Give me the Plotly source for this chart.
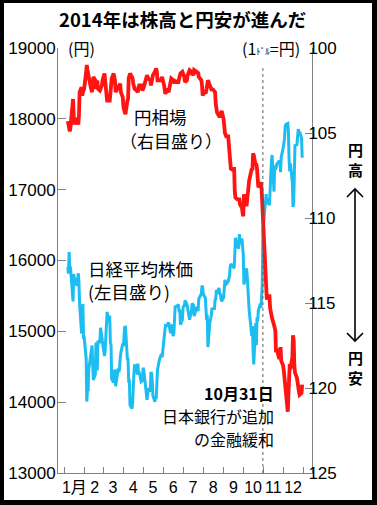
import plotly.graph_objects as go

# ---------------- data ----------------
day_labels = [
 "01-06","01-07","01-08","01-09","01-10","01-14","01-15","01-16","01-17","01-20","01-21","01-22","01-23","01-24","01-27","01-28","01-29","01-30","01-31",
 "02-03","02-04","02-05","02-06","02-07","02-10","02-12","02-13","02-14","02-17","02-18","02-19","02-20","02-21","02-24","02-25","02-26","02-27","02-28",
 "03-03","03-04","03-05","03-06","03-07","03-10","03-11","03-12","03-13","03-14","03-17","03-18","03-19","03-20","03-24","03-25","03-26","03-27","03-28","03-31",
 "04-01","04-02","04-03","04-04","04-07","04-08","04-09","04-10","04-11","04-14","04-15","04-16","04-17","04-18","04-21","04-22","04-23","04-24","04-25","04-28","04-30",
 "05-01","05-02","05-07","05-08","05-09","05-12","05-13","05-14","05-15","05-16","05-19","05-20","05-21","05-22","05-23","05-26","05-27","05-28","05-29","05-30",
 "06-02","06-03","06-04","06-05","06-06","06-09","06-10","06-11","06-12","06-13","06-16","06-17","06-18","06-19","06-20","06-23","06-24","06-25","06-26","06-27","06-30",
 "07-01","07-02","07-03","07-04","07-07","07-08","07-09","07-10","07-11","07-14","07-15","07-16","07-17","07-18","07-22","07-23","07-24","07-25","07-28","07-29","07-30","07-31",
 "08-01","08-04","08-05","08-06","08-07","08-08","08-11","08-12","08-13","08-14","08-15","08-18","08-19","08-20","08-21","08-22","08-25","08-26","08-27","08-28","08-29",
 "09-01","09-02","09-03","09-04","09-05","09-08","09-09","09-10","09-11","09-12","09-16","09-17","09-18","09-19","09-22","09-24","09-25","09-26","09-29","09-30",
 "10-01","10-02","10-03","10-06","10-07","10-08","10-09","10-10","10-14","10-15","10-16","10-17","10-20","10-21","10-22","10-23","10-24","10-27","10-28","10-29","10-30","10-31",
 "11-04","11-05","11-06","11-07","11-10","11-11","11-12","11-13","11-14","11-17","11-18","11-19","11-20","11-21","11-25","11-26","11-27","11-28",
 "12-01","12-02","12-03","12-04","12-05","12-08","12-09","12-10","12-11","12-12","12-15","12-16","12-17","12-18","12-19","12-22","12-24","12-25","12-26","12-29","12-30",
]

nikkei = [
 15908,15814,16121,15880,15912,15422,15809,15747,15734,15641,15795,15820,15695,15391,14972,15006,15384,14914,14915,
 14619,14008,14180,14155,14462,14718,14800,14535,14313,14393,14843,14766,14449,14865,14837,15051,14924,14924,14841,
 14652,14721,14897,15134,15274,15120,15224,14830,14815,14327,14277,14411,14462,14224,14475,14423,14477,14622,14696,14827,
 14791,14946,15071,15063,14607,14606,14299,14300,13960,13910,13996,14417,14417,14516,14512,14388,14546,14404,14429,14288,14304,
 14485,14457,14033,14163,14199,14149,14425,14405,14298,14096,14006,14075,14042,14337,14462,14602,14636,14670,14681,14632,
 14935,15034,15075,15069,15077,15124,15069,15069,14973,15097,14933,14975,15115,15361,15349,15369,15376,15266,15308,15095,15162,
 15326,15369,15348,15437,15379,15314,15302,15216,15164,15297,15395,15379,15370,15215,15343,15328,15284,15457,15529,15530,15646,15620,
 15523,15474,15320,15159,15232,14778,15130,15161,15213,15314,15318,15322,15449,15454,15586,15539,15613,15521,15534,15459,15424,
 15476,15668,15728,15676,15668,15705,15749,15788,15909,15948,15911,15888,16067,16321,16205,16167,16374,16229,16310,16173,
 16082,15661,15708,15890,15784,15595,15479,15300,14936,15074,14738,14532,15112,14804,15196,15139,15291,15389,15330,15553,15658,16414,
 16862,16937,16792,16880,16780,17124,17197,17392,17490,16973,17344,17288,17300,17357,17407,17383,17248,17459,
 17590,17663,17720,17887,17920,17935,17813,17412,17257,17371,17099,16755,16819,17210,17621,17635,17854,17808,17818,17729,17450,
]

usdjpy = [
 104.3,104.5,104.8,104.9,104.7,103.0,104.0,104.5,104.3,104.2,104.4,104.5,104.0,102.6,102.3,102.8,102.6,102.5,102.4,
 101.4,101.0,101.3,101.5,101.9,102.3,102.6,101.9,101.7,101.9,102.4,102.3,101.9,102.4,102.5,102.4,102.3,102.2,101.9,
 101.5,101.9,102.2,102.5,103.1,103.1,103.1,102.7,102.4,101.8,101.5,101.7,101.9,102.6,102.3,102.3,102.2,102.1,102.6,102.9,
 103.5,103.7,103.8,103.9,103.1,103.0,101.8,101.6,101.5,101.7,101.8,102.1,102.4,102.4,102.5,102.6,102.6,102.3,102.2,102.2,102.5,
 102.4,102.3,101.6,101.8,101.8,101.9,102.2,102.0,101.8,101.6,101.4,101.3,101.2,101.4,101.9,101.9,101.9,101.9,101.8,101.7,
 102.2,102.6,102.7,102.6,102.4,102.6,102.3,102.1,101.9,101.8,101.9,101.9,102.1,101.9,102.0,102.0,102.0,101.8,101.6,101.5,101.4,
 101.5,101.6,101.7,102.0,101.9,101.6,101.5,101.4,101.3,101.4,101.6,101.5,101.6,101.3,101.4,101.5,101.4,101.7,101.8,101.9,102.2,102.8,
 102.7,102.6,102.6,102.4,102.1,101.9,102.2,102.3,102.4,102.5,102.4,102.5,102.6,103.3,103.8,103.8,104.0,104.0,103.9,103.7,103.7,
 104.2,104.9,105.0,105.1,105.2,105.2,105.8,106.3,106.8,107.1,107.2,107.0,108.4,108.8,108.9,108.9,108.9,109.2,109.4,109.7,
 109.9,108.6,108.9,109.3,108.8,108.2,107.9,107.8,107.1,107.2,106.2,106.3,106.9,106.8,107.1,107.6,108.2,108.0,107.9,108.3,109.1,111.0,
 113.9,114.0,114.8,114.6,114.6,115.3,115.6,115.8,115.9,116.3,116.4,116.6,117.9,117.7,118.3,117.7,117.6,118.4,
 118.7,119.0,119.4,119.9,120.2,121.4,120.4,119.7,118.6,118.9,118.2,116.9,117.2,118.6,119.1,119.4,120.2,120.2,120.4,120.3,119.8,
]

month_labels = ["1月", "2", "3", "4", "5", "6", "7", "8", "9", "10", "11", "12"]
left_ticks = [13000, 14000, 15000, 16000, 17000, 18000, 19000]
left_tick_text = ["13000", "14000", "15000", "16000", "17000", "18000", "19000"]
right_ticks = [100, 105, 110, 115, 120, 125]
right_tick_text = ["100", "105", "110", "115", "120", "125"]

dates = ["2014-" + d for d in day_labels]
month_mid = ["2014-%02d-16" % m for m in range(1, 13)]
month_start = ["2014-%02d-01" % m for m in range(1, 13)] + ["2015-01-01"]

# ---------------- layout geometry (pixels) ----------------
W, H = 377, 505
L, R, T, B = 58, 312, 48, 473


def px(x):
    return (x - L) / (R - L)


def py(y):
    return (B - y) / (B - T)


CJK = "Noto Sans CJK JP"
NUM = "Liberation Sans, Noto Sans CJK JP"

fig = go.Figure()
fig.add_trace(go.Scatter(x=dates, y=nikkei, mode="lines", yaxis="y",
                         line=dict(color="#1cbdf0", width=3), showlegend=False))
fig.add_trace(go.Scatter(x=dates, y=usdjpy, mode="lines", yaxis="y2",
                         line=dict(color="#ff1414", width=3.8), showlegend=False))

fig.update_layout(
    width=W, height=H,
    margin=dict(l=L, r=W - R, t=T, b=H - B, pad=0, autoexpand=False),
    paper_bgcolor="black",
    plot_bgcolor="rgba(0,0,0,0)",
    showlegend=False,
    xaxis=dict(
        type="date", range=["2013-12-22", "2015-01-14"], automargin=False,
        tickmode="array", tickvals=month_mid, ticktext=month_labels,
        ticks="", showgrid=False, zeroline=False,
        showline=True, linecolor="#808080", linewidth=1,
        tickfont=dict(family=NUM, size=16, color="black"),
        minor=dict(tickmode="array", tickvals=month_start, ticks="inside",
                   ticklen=6, tickcolor="#808080", tickwidth=1, showgrid=False),
    ),
    yaxis=dict(
        range=[13000, 19000], tickmode="array", tickvals=left_ticks, automargin=False,
        ticktext=left_tick_text, ticklabelstandoff=-2,
        ticks="inside", ticklen=8, tickcolor="#808080",
        showline=True, linecolor="#808080", linewidth=1,
        showgrid=False, zeroline=False,
        tickfont=dict(family=NUM, size=17, color="black"),
    ),
    yaxis2=dict(
        overlaying="y", side="right", range=[125, 100], automargin=False,
        tickmode="array", tickvals=right_ticks, ticktext=right_tick_text,
        ticklabelstandoff=-8,
        ticks="inside", ticklen=7, tickcolor="#808080",
        showline=True, linecolor="#808080", linewidth=1,
        showgrid=False, zeroline=False,
        tickfont=dict(family=NUM, size=17, color="black"),
    ),
)

shapes = [
    # white card inside black frame
    dict(type="rect", xref="paper", yref="paper", layer="below",
         x0=px(4), x1=px(372), y0=py(500), y1=py(3),
         fillcolor="white", line=dict(width=0)),
    # 10/31 dotted marker
    dict(type="line", xref="x", yref="paper", x0="2014-10-31", x1="2014-10-31",
         y0=0, y1=py(68), line=dict(color="#606060", width=1, dash="dot")),
    # double arrow
    dict(type="line", xref="paper", yref="paper", x0=px(355), x1=px(355),
         y0=py(189), y1=py(341), line=dict(color="black", width=1.6)),
    dict(type="path", xref="paper", yref="paper",
         path="M %f,%f L %f,%f L %f,%f" % (px(347), py(197), px(355), py(189), px(363), py(197)),
         line=dict(color="black", width=1.6)),
    dict(type="path", xref="paper", yref="paper",
         path="M %f,%f L %f,%f L %f,%f" % (px(347), py(333), px(355), py(341), px(363), py(333)),
         line=dict(color="black", width=1.6)),
]
fig.update_layout(shapes=shapes)


def ann(text, x, y, size, xanchor="center", family=CJK, align=None):
    d = dict(text=text, x=px(x), y=py(y), xref="paper", yref="paper",
             xanchor=xanchor, yanchor="middle", showarrow=False,
             font=dict(family=family, size=size, color="black"))
    if align:
        d["align"] = align
    return d


annotations = [
    ann("<b>2014年は株高と円安が進んだ</b>", 182, 19, 18.5),
    ann("(円)", 66, 48, 16, "left"),
    ann("(1<span style='font-size:9px'>ﾄﾞﾙ</span>=円)", 302, 48, 16, "right"),
    ann("円相場", 160, 116, 17.5),
    ann("（右目盛り）", 171, 140, 17),
    ann("日経平均株価<br>(左目盛り)", 86, 280, 17.5, "left", align="left"),
    ann("<b>10月31日</b>", 276, 393, 16, "right"),
    ann("日本銀行が追加", 276, 416, 16, "right"),
    ann("の金融緩和", 276, 439, 16, "right"),
    ann("<b>円<br>高</b>", 355, 159, 15),
    ann("<b>円<br>安</b>", 355, 367, 15),
]
fig.update_layout(annotations=annotations)

fig.write_html("out.html")
